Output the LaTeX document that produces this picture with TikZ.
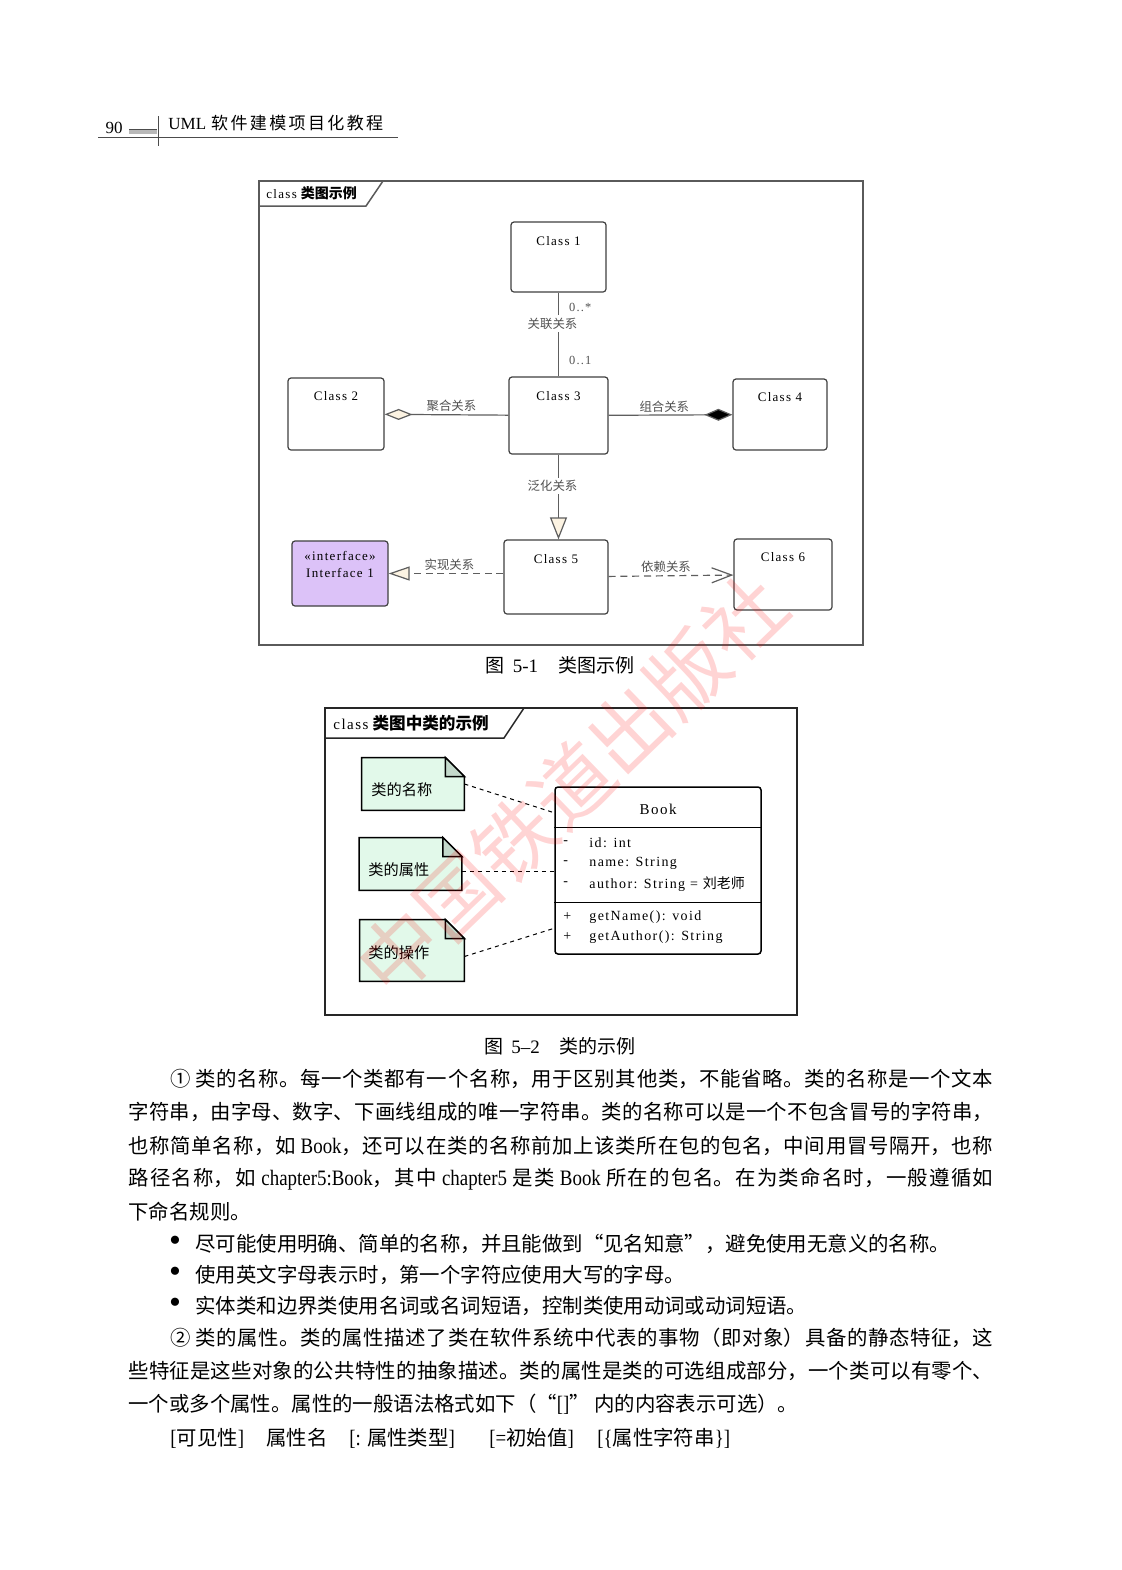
\documentclass[tikz,border=0pt]{standalone}
\usepackage{fontspec}
\setmainfont{Liberation Serif}
\newfontfamily\cjk{Noto Sans CJK SC}
\newfontfamily\cjkwide[LetterSpace=14]{Noto Sans CJK SC}
\newfontfamily\latfont[FakeStretch=0.86]{Liberation Serif}
\newfontfamily\diafont[LetterSpace=10]{Liberation Serif}
\usetikzlibrary{arrows.meta,positioning,calc}
\XeTeXlinebreaklocale "zh"
\XeTeXlinebreakskip=0pt plus 2pt minus 0.5pt

\definecolor{framegray}{HTML}{5A5A5A}
\definecolor{linegray}{HTML}{5E5E5E}
\definecolor{lblgray}{HTML}{505050}
\definecolor{diacream}{HTML}{FCF3E2}
\definecolor{ifpurple}{HTML}{DCC2F8}
\definecolor{notegreen}{HTML}{E2F9EA}
\definecolor{foldgreen}{HTML}{C3D9CB}

\newcommand\lt[1]{{\latfont\fontsize{11pt}{12pt}\selectfont #1}}
\newcommand\bodysize{\cjk\fontsize{10.2pt}{12pt}\selectfont}
\newcommand\jline[2]{\parbox{#1}{\parfillskip=0pt\relax #2}}

\begin{document}
\begin{tikzpicture}[x=0.5pt, y=-0.5pt,
    framebox/.style={draw=framegray, line width=0.75pt},
    umlclass/.style={draw=black!75, rounded corners=1.5pt, fill=white, line width=0.6pt, inner sep=0},
    clsname/.style={font={\diafont\fontsize{6.5pt}{8.5pt}\selectfont}, inner sep=0, align=center},
    rellbl/.style={font={\cjk\fontsize{6.2pt}{7pt}\selectfont}, text=lblgray, inner sep=1.2pt},
    mult/.style={font={\diafont\fontsize{6.2pt}{7pt}\selectfont}, text=lblgray, inner sep=0},
    rel/.style={draw=linegray, line width=0.6pt},
    reldash/.style={rel, dash pattern=on 3.5pt off 2.4pt},
    notebox/.style={fill=notegreen, minimum width=51pt, minimum height=26pt, inner sep=0},
    noteline/.style={draw=black, line width=0.7pt},
    notetxt/.style={font={\cjk\fontsize{7.6pt}{9pt}\selectfont}, inner sep=0},
    notelink/.style={draw=black, line width=0.5pt, dash pattern=on 2pt off 2pt},
    bookbox/.style={draw=black, rounded corners=1.5pt, line width=0.75pt, inner sep=0},
    memb/.style={font={\diafont\fontsize{7pt}{8pt}\selectfont}, inner sep=0},
    bodytxt/.style={font=\bodysize, inner sep=0},
    caption/.style={font={\cjk\fontsize{9.5pt}{11pt}\selectfont}, inner sep=0},
    >={Stealth[length=2mm]}
  ]
  \useasboundingbox (0,0) rectangle (1122,1570);
  \fill[white] (0,0) rectangle (1122,1570);

  % running head
  \node[inner sep=0, font={\fontsize{8.5pt}{10pt}\selectfont}] (pgno) at (114,128) {90};
  \fill[gray!55] (129,129) rectangle (157,134);
  \draw[black!70, line width=0.4pt] (129,129) -- (157,129);
  \draw[black!70, line width=0.5pt] (158,116) -- (158,146);
  \draw[black!70, line width=0.5pt] (98,137) -- (398,137);
  \node[anchor=west, inner sep=0] (hdr) at (168,123) {{\rmfamily\fontsize{8.5pt}{10pt}\selectfont UML} {\cjkwide\fontsize{8.5pt}{10pt}\selectfont 软件建模项目化教程}};

  % figure 5-1
  \draw[framebox] (259,181) rectangle (863,645);
  \draw[framebox] (259,206) -- (366,206) -- (383,181);
  \node[anchor=west, inner sep=0, font={\diafont\fontsize{6.5pt}{8pt}\selectfont}] (tab1) at (266,193) {class\hspace{2pt}{\cjk\bfseries\fontsize{7pt}{8pt}\selectfont 类图示例}};

  \node[umlclass, minimum width=47.5pt, minimum height=35pt] (c1) at (558.5,257) {};
  \node[umlclass, minimum width=48pt, minimum height=36pt] (c2) at (336,414) {};
  \node[umlclass, minimum width=49.5pt, minimum height=38.5pt] (c3) at (558.5,415.5) {};
  \node[umlclass, minimum width=47pt, minimum height=35.5pt] (c4) at (780,414.5) {};
  \node[umlclass, fill=ifpurple, minimum width=48pt, minimum height=32.5pt] (if1) at (340,573.5) {};
  \node[umlclass, minimum width=52pt, minimum height=37pt] (c5) at (556,577) {};
  \node[umlclass, minimum width=49pt, minimum height=35.5pt] (c6) at (783,574.5) {};

  \node[clsname] (c1n) at ([yshift=-10pt]c1.north) {Class 1};
  \node[clsname] (c2n) at ([yshift=-9.5pt]c2.north) {Class 2};
  \node[clsname] (c3n) at ([yshift=-10pt]c3.north) {Class 3};
  \node[clsname] (c4n) at ([yshift=-9.5pt]c4.north) {Class 4};
  \node[clsname] (c5n) at ([yshift=-10pt]c5.north) {Class 5};
  \node[clsname] (c6n) at ([yshift=-9.5pt]c6.north) {Class 6};
  \node[clsname] (if1n) at ([yshift=-12pt]if1.north) {«interface»\\Interface 1};

  \draw[rel] (c1) -- (c3)
    node[mult, right=5pt, pos=0.18] {0..*}
    node[rellbl, fill=white, pos=0.37, xshift=-3pt] {关联关系}
    node[mult, right=5pt, pos=0.81] {0..1};
  \draw[rel, -{Diamond[length=14pt, width=5.5pt, fill=diacream]}] (c3) -- (c2)
    node[rellbl, above, pos=0.46] {聚合关系};
  \draw[rel, -{Diamond[length=14pt, width=6pt, fill=black]}] (c3) -- (c4)
    node[rellbl, above, pos=0.45] {组合关系};
  \draw[rel, -{Triangle[length=11pt, width=8.5pt, fill=diacream]}] (c3) -- (c3 |- c5.north)
    node[rellbl, fill=white, pos=0.37, xshift=-3pt] {泛化关系};
  \draw[reldash, -{Triangle[length=10.5pt, width=7pt, fill=diacream]}] (c5.west |- if1) -- (if1)
    node[rellbl, above, pos=0.47] {实现关系};
  \draw[reldash, -{Straight Barb[length=10pt, width=7.5pt]}] (c5) -- (c6)
    node[rellbl, above, pos=0.46] {依赖关系};

  \node[caption] (cap1) at (560,665) {图\hspace{4pt}{\rmfamily 5-1}\hspace{10pt}类图示例};

  % figure 5-2
  \draw[framebox, draw=black!85] (325,708) rectangle (797,1015);
  \draw[framebox, draw=black!85] (325,738) -- (504,738) -- (524,708);
  \node[anchor=west, inner sep=0, font={\diafont\fontsize{7.5pt}{9pt}\selectfont}] (tab2) at (333,723) {class\hspace{2pt}{\cjk\bfseries\fontsize{8.3pt}{9pt}\selectfont 类图中类的示例}};

  \node[notebox] (n1) at (413,784) {};
  \node[notebox] (n2) at (410.5,864) {};
  \node[notebox, minimum width=52pt, minimum height=30.5pt] (n3) at (412,950.5) {};
  \foreach \nn in {n1,n2,n3} {
    \fill[white] ([xshift=-9.5pt]\nn.north east) -- (\nn.north east) -- ([yshift=-9.5pt]\nn.north east) -- cycle;
    \draw[noteline] (\nn.south west) -- (\nn.north west) -- ([xshift=-9.5pt]\nn.north east) -- ([yshift=-9.5pt]\nn.north east) -- (\nn.south east) -- cycle;
    \filldraw[noteline, fill=foldgreen] ([xshift=-9.5pt]\nn.north east) -- ([xshift=-9.5pt,yshift=-9.5pt]\nn.north east) -- ([yshift=-9.5pt]\nn.north east) -- cycle;
  }
  \node[notetxt, anchor=west] (n1t) at (371,790) {类的名称};
  \node[notetxt, anchor=west] (n2t) at (368,870) {类的属性};
  \node[notetxt, anchor=west] (n3t) at (368,953) {类的操作};

  \node[bookbox, minimum width=103pt, minimum height=83.5pt] (bk) at (658,870.5) {};
  \node[memb, font={\diafont\fontsize{7.5pt}{9pt}\selectfont}] (bkt) at (658,809) {Book};
  \draw[bookbox] ($(bk.north west)+(0,41)$) -- ($(bk.north east)+(0,41)$);
  \draw[bookbox] ($(bk.north west)+(0,116)$) -- ($(bk.north east)+(0,116)$);
  \foreach \yy/\mk/\txt [count=\i] in {843/-/{id: int}, 863/-/{name: String}, 884/-/{author: String = {\cjk 刘老师}}, 917/+/{getName(): void}, 937/+/{getAuthor(): String}} {
    \node[memb, anchor=west] (mk\i) at (563,\yy) {\mk};
    \node[memb, anchor=west] (mb\i) at (589,\yy) {\txt};
  }

  \coordinate (bkname) at (555,813);
  \coordinate (bkattr) at (555,871);
  \coordinate (bkops) at (555,928);
  \draw[notelink] (n1.east) -- (bkname);
  \draw[notelink] (n2.east |- bkattr) -- (bkattr);
  \draw[notelink] ([yshift=-3pt]n3.east) -- (bkops);

  \node[caption] (cap2) at (560,1046) {图\hspace{4pt}{\rmfamily 5--2}\hspace{10pt}类的示例};

  % body text
  \node[bodytxt, anchor=west] (p1a) at (170,1079) {\jline{411.5pt}{① 类的名称。每一个类都有一个名称，用于区别其他类，不能省略。类的名称是一个文本}};
  \node[bodytxt, anchor=west] (p1b) at (128,1112) {\jline{432.5pt}{字符串，由字母、数字、下画线组成的唯一字符串。类的名称可以是一个不包含冒号的字符串，}};
  \node[bodytxt, anchor=west] (p1c) at (128,1146) {\jline{432.5pt}{也称简单名称，如 \lt{Book}，还可以在类的名称前加上该类所在包的包名，中间用冒号隔开，也称}};
  \node[bodytxt, anchor=west] (p1d) at (128,1179) {\jline{432.5pt}{路径名称，如 \lt{chapter5:Book}，其中 \lt{chapter5} 是类 \lt{Book} 所在的包名。在为类命名时，一般遵循如}};
  \node[bodytxt, anchor=west] (p1e) at (128,1212) {下命名规则。};
  \foreach \yy/\txt [count=\i] in {1244/{尽可能使用明确、简单的名称，并且能做到“见名知意”，避免使用无意义的名称。}, 1275/{使用英文字母表示时，第一个字符应使用大写的字母。}, 1306/{实体类和边界类使用名词或名词短语，控制类使用动词或动词短语。}} {
    \node[inner sep=0, font={\fontsize{17pt}{17pt}\selectfont}] (bul\i) at (175,\yy) {•};
    \node[bodytxt, anchor=west] (item\i) at (195,\yy) {\txt};
  }
  \node[bodytxt, anchor=west] (p2a) at (170,1338) {\jline{411.5pt}{② 类的属性。类的属性描述了类在软件系统中代表的事物（即对象）具备的静态特征，这}};
  \node[bodytxt, anchor=west] (p2b) at (128,1371) {\jline{432.5pt}{些特征是这些对象的公共特性的抽象描述。类的属性是类的可选组成部分，一个类可以有零个、}};
  \node[bodytxt, anchor=west] (p2c) at (128,1404) {一个或多个属性。属性的一般语法格式如下（“\lt{[]}” 内的内容表示可选）。};
  \foreach \xx/\piece [count=\i] in {170/{\lt{[}可见性\lt{]}}, 266/{属性名}, 349/{\lt{[:} 属性类型\lt{]}}, 489/{\lt{[=}初始值\lt{]}}, 597/{\lt{[\{}属性字符串\lt{\}]}}} {
    \node[bodytxt, anchor=west] (syn\i) at (\xx,1438) {\piece};
  }

  % watermark
  \node[rotate=44, text=red, text opacity=0.17, inner sep=0, font={\cjk\fontsize{40pt}{40pt}\selectfont}] (wm) at (572,785) {中国铁道出版社};
\end{tikzpicture}
\end{document}
